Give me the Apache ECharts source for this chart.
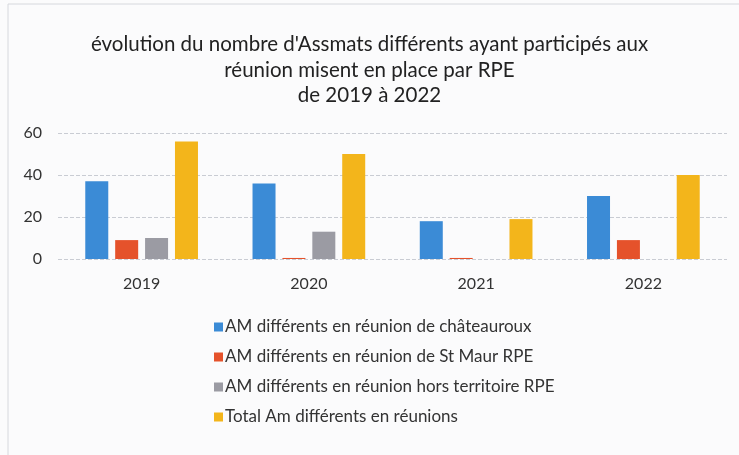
<!DOCTYPE html>
<html>
<head>
<meta charset="utf-8">
<script src="https://cdn.jsdelivr.net/npm/echarts@6/dist/echarts.min.js"></script>
<style>
  html, body { margin: 0; padding: 0; background: #fbfbfc; }
  #chart { width: 739px; height: 455px; }
</style>
</head>
<body>
<div id="chart"></div>
<script>
'use strict';
// données
const years = ['2019', '2020', '2021', '2022'];
const chateauroux = [37, 36, 18, 30];
const stMaur = [9, 0.5, 0.5, 9];
const horsTerritoire = [10, 13, 0, 0];
const total = [56, 50, 19, 40];
const seriesNames = [
    'AM différents en réunion de châteauroux',
    'AM différents en réunion de St Maur RPE',
    'AM différents en réunion hors territoire RPE',
    'Total Am différents en réunions'
];
const yTicks = [0, 20, 40, 60];

let dom = document.getElementById('chart');
let myChart = echarts.init(dom);
let font = "Lato, 'Open Sans', sans-serif";

let option = {
    backgroundColor: '#fbfbfc',
    animation: false,
    color: ['#3b8bd6', '#e5522b', '#9b9ba3', '#f3b51b'],
    graphic: [{
        type: 'rect',
        shape: { x: 8, y: 4, width: 740, height: 460 },
        style: { fill: 'none', stroke: '#d6d8dd', lineWidth: 1 },
        silent: true
    }],
    title: {
        text: "évolution du nombre d'Assmats différents ayant participés aux\nréunion misent en place par RPE\nde 2019 à 2022",
        left: 'center',
        top: 27,
        textStyle: {
            fontFamily: font,
            fontWeight: 'normal',
            fontSize: 20.5,
            lineHeight: 25.5,
            color: '#222'
        }
    },
    legend: {
        orient: 'vertical',
        left: 209,
        top: 313,
        itemGap: 12,
        itemWidth: 9,
        itemHeight: 9,
        icon: 'rect',
        textStyle: {
            fontFamily: font,
            fontSize: 17,
            lineHeight: 18,
            color: '#333',
            padding: [0, 0, 0, -3]
        },
        data: seriesNames
    },
    grid: {
        left: 58,
        right: 12,
        top: 133,
        height: 126
    },
    xAxis: {
        type: 'category',
        data: years,
        axisLine: { show: false },
        axisTick: { show: false },
        axisLabel: {
            fontFamily: font,
            fontSize: 16,
            color: '#333',
            margin: 17
        }
    },
    yAxis: {
        type: 'value',
        min: yTicks[0],
        max: yTicks[yTicks.length - 1],
        interval: 20,
        axisLabel: {
            fontFamily: font,
            fontSize: 16,
            color: '#333',
            margin: 16
        },
        splitLine: {
            lineStyle: { color: '#c9ccd3', type: 'dashed', width: 1 }
        }
    },
    series: [chateauroux, stMaur, horsTerritoire, total].map(function (d, i) {
        return {
            name: seriesNames[i],
            type: 'bar',
            data: d,
            barWidth: 23,
            barGap: '30%'
        };
    })
};

myChart.setOption(option, true);
</script>
</body>
</html>
